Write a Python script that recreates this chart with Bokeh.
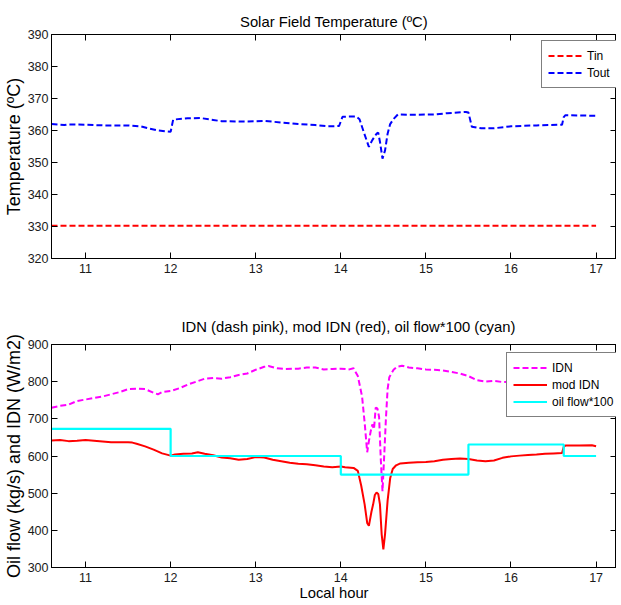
from bokeh.plotting import figure
from bokeh.layouts import column
from bokeh.models import Range1d, LinearAxis, FixedTicker, Legend, LegendItem
from bokeh.embed import file_html
from bokeh.resources import INLINE

# ---------------- data ----------------
x_ticks = [11, 12, 13, 14, 15, 16, 17]
temp_ticks = [320, 330, 340, 350, 360, 370, 380, 390]
idn_ticks = [300, 400, 500, 600, 700, 800, 900]

tin_hours = [10.6, 17.0]
tin = [330.2, 330.2]

tout_hours = [10.60, 10.75, 10.80, 11.00, 11.20, 11.50, 11.65, 11.75, 11.85, 11.95, 12.00, 12.03,
              12.20, 12.35, 12.50, 12.60, 12.90, 13.10, 13.30, 13.50, 13.70, 13.85, 13.98, 14.02,
              14.18, 14.22, 14.27, 14.33, 14.37, 14.42, 14.44, 14.46, 14.49, 14.52, 14.55, 14.58,
              14.62, 14.67, 14.80, 15.10, 15.25, 15.47, 15.50, 15.54, 15.65, 15.80, 16.00, 16.30,
              16.60, 16.62, 16.64, 17.00]
tout = [362.0, 361.7, 361.9, 361.8, 361.6, 361.6, 361.3, 360.6, 360.0, 359.7, 359.6, 363.4,
        363.8, 363.9, 363.3, 362.9, 362.8, 363.0, 362.5, 362.0, 361.7, 361.3, 361.4, 364.3,
        364.4, 363.5, 359.5, 354.9, 357.0, 359.0, 359.3, 356.5, 351.2, 353.8, 359.0, 362.0,
        363.6, 365.0, 364.9, 365.0, 365.4, 365.8, 365.6, 361.2, 360.7, 360.7, 361.3, 361.6,
        361.8, 364.2, 364.8, 364.6]

idn_hours = [10.60, 10.70, 10.80, 10.90, 11.00, 11.10, 11.20, 11.30, 11.40, 11.50, 11.60, 11.70,
             11.80, 11.85, 11.90, 12.00, 12.10, 12.20, 12.30, 12.40, 12.50, 12.60, 12.70, 12.80,
             12.90, 13.00, 13.10, 13.15, 13.25, 13.35, 13.50, 13.60, 13.70, 13.80, 13.90, 14.00,
             14.10, 14.15, 14.20, 14.25, 14.28, 14.31, 14.33, 14.35, 14.37, 14.39, 14.41, 14.43,
             14.45, 14.47, 14.49, 14.51, 14.53, 14.55, 14.57, 14.59, 14.62, 14.66, 14.72, 14.80,
             14.90, 15.00, 15.10, 15.20, 15.30, 15.40, 15.50, 15.60, 15.70, 15.80, 15.90, 16.00,
             16.20, 16.50, 16.80, 17.00]
idn = [730, 735, 738, 748, 752, 756, 760, 766, 772, 780, 781, 780,
       770, 766, 772, 775, 782, 792, 800, 808, 810, 808, 812, 818,
       822, 832, 840, 842, 836, 834, 835, 838, 838, 833, 834, 835,
       833, 836, 815, 760, 690, 610, 640, 665, 685, 672, 730, 728,
       705, 590, 505, 600, 700, 780, 812, 820, 832, 840, 843, 838,
       836, 833, 832, 830, 826, 822, 815, 804, 800, 802, 799, 800,
       800, 800, 800, 800]

mod_hours = [10.60, 10.70, 10.80, 10.90, 11.00, 11.10, 11.20, 11.30, 11.40, 11.50, 11.55, 11.60,
             11.70, 11.80, 11.90, 12.00, 12.05, 12.15, 12.25, 12.32, 12.40, 12.50, 12.60, 12.70,
             12.80, 12.90, 13.00, 13.10, 13.20, 13.30, 13.40, 13.50, 13.60, 13.70, 13.80, 13.90,
             14.00, 14.05, 14.15, 14.20, 14.24, 14.28, 14.31, 14.33, 14.36, 14.38, 14.40, 14.42,
             14.44, 14.46, 14.48, 14.50, 14.52, 14.55, 14.58, 14.61, 14.65, 14.70, 14.80, 14.90,
             15.00, 15.10, 15.20, 15.30, 15.40, 15.50, 15.60, 15.70, 15.80, 15.90, 16.00, 16.10,
             16.20, 16.30, 16.40, 16.50, 16.60, 16.62, 16.64, 16.80, 16.95, 17.00]
mod_idn = [642, 643, 640, 641, 643, 641, 639, 637, 637, 637, 636, 633,
           626, 617, 607, 601, 604, 606, 607, 610, 606, 602, 596, 594,
           590, 592, 597, 596, 590, 586, 582, 579, 578, 575, 572, 570,
           572, 570, 568, 560, 520, 470, 420, 412, 450, 470, 495, 502,
           498, 470, 390, 349, 390, 480, 540, 565, 575, 580, 582, 583,
           584, 586, 590, 592, 593, 592, 588, 586, 588, 595, 599, 601,
           603, 604, 606, 607, 608, 625, 628, 628, 629, 626]

flow_hours = [10.60, 12.00, 14.00, 15.50, 16.62, 17.00]
oil_flow = [6.73, 6.00, 5.50, 6.31, 6.00, 6.00]   # kg/s

# ---------------- style ----------------
FONT = "'Liberation Sans', Arial, sans-serif"
FRAME_W = 565
X0, X1 = 10.60, 17.24


def make_fig(frame_h, title, yr, yticks, ylabel, title_standoff, top_border, bottom_border,
             xlabel=None, title_align="center", title_offset=0):
    p = figure(frame_width=FRAME_W, frame_height=frame_h, x_range=Range1d(X0, X1),
               y_range=Range1d(*yr), output_backend="svg", toolbar_location=None, title=title,
               min_border_left=46, min_border_right=0, min_border_top=top_border,
               min_border_bottom=bottom_border, background_fill_color="white",
               border_fill_color="white")
    p.outline_line_color = "black"
    p.grid.visible = False
    p.title.align = title_align
    p.title.offset = title_offset
    p.title.text_font = FONT
    p.title.text_font_size = "14.8px"
    p.title.text_font_style = "normal"
    p.title.text_color = "black"
    p.title.standoff = title_standoff

    for ax in (p.xaxis[0], p.yaxis[0]):
        ax.major_tick_in = 6
        ax.major_tick_out = 0
        ax.minor_tick_line_color = None
        ax.axis_line_color = "black"
        ax.major_tick_line_color = "black"
        ax.major_label_text_font = FONT
        ax.major_label_text_font_size = "12.5px"
        ax.major_label_text_color = "#1a1a1a"
        ax.axis_label_text_font_style = "normal"
        ax.axis_label_text_color = "black"
    p.xaxis[0].ticker = FixedTicker(ticks=x_ticks)
    p.yaxis[0].ticker = FixedTicker(ticks=yticks)
    p.xaxis[0].major_label_standoff = 5
    p.yaxis[0].major_label_standoff = 3
    p.yaxis[0].axis_label = ylabel
    p.yaxis[0].axis_label_text_font = FONT
    p.yaxis[0].axis_label_text_font_size = "18px"
    p.yaxis[0].axis_label_standoff = 1
    if xlabel:
        p.xaxis[0].axis_label = xlabel
        p.xaxis[0].axis_label_text_font = FONT
        p.xaxis[0].axis_label_text_font_size = "14.8px"
        p.xaxis[0].axis_label_standoff = 0

    for side, tk in (("right", yticks), ("above", x_ticks)):
        ax = LinearAxis(ticker=FixedTicker(ticks=tk), major_tick_in=6, major_tick_out=0,
                        minor_tick_line_color=None, major_label_text_font_size="1px",
                        major_label_text_color=None, major_label_standoff=0,
                        axis_line_color="black", major_tick_line_color="black")
        p.add_layout(ax, side)
    return p


def style_legend(leg, x, y):
    leg.location = (x, y)
    leg.margin = 0
    leg.padding = 6
    leg.spacing = 0
    leg.glyph_width = 34
    leg.glyph_height = 17
    leg.label_height = 17
    leg.label_standoff = 5
    leg.label_text_font = FONT
    leg.label_text_font_size = "12px"
    leg.label_text_color = "black"
    leg.border_line_color = "black"
    leg.border_line_width = 1
    leg.background_fill_color = "white"
    leg.background_fill_alpha = 1.0


# ---------------- top subplot ----------------
p1 = make_fig(224, "Solar Field Temperature (ºC)", (320, 390), temp_ticks,
              "Temperature (ºC)", 9.5, 34, 42)
r_tin = p1.line(tin_hours, tin, line_color="#ff0000", line_width=2, line_dash="6 3")
r_tout = p1.line(tout_hours, tout, line_color="#0000ff", line_width=2, line_dash="6 3")
leg1 = Legend(items=[LegendItem(label="Tin", renderers=[r_tin]),
                     LegendItem(label="Tout", renderers=[r_tout])])
p1.add_layout(leg1, "center")
style_legend(leg1, 490, 170)

# ---------------- bottom subplot ----------------
p2 = make_fig(223, "IDN (dash pink), mod IDN (red), oil flow*100 (cyan)", (300, 900), idn_ticks,
              "Oil flow (kg/s) and IDN (W/m2)", 19.5, 44, 38, xlabel="Local hour",
              title_align="left", title_offset=130)
flow_scaled = [v * 100 for v in oil_flow]
r_idn = p2.line(idn_hours, idn, line_color="#ff00ff", line_width=2, line_dash="6 3")
r_mod = p2.line(mod_hours, mod_idn, line_color="#ff0000", line_width=2)
r_flow = p2.step(flow_hours, flow_scaled, mode="after", line_color="#00ffff", line_width=2.2)
leg2 = Legend(items=[LegendItem(label="IDN", renderers=[r_idn]),
                     LegendItem(label="mod IDN", renderers=[r_mod]),
                     LegendItem(label="oil flow*100", renderers=[r_flow])])
p2.add_layout(leg2, "center")
style_legend(leg2, 455, 150)

layout = column(p1, p2, spacing=0)
open("out.html", "w").write(file_html(layout, INLINE))
